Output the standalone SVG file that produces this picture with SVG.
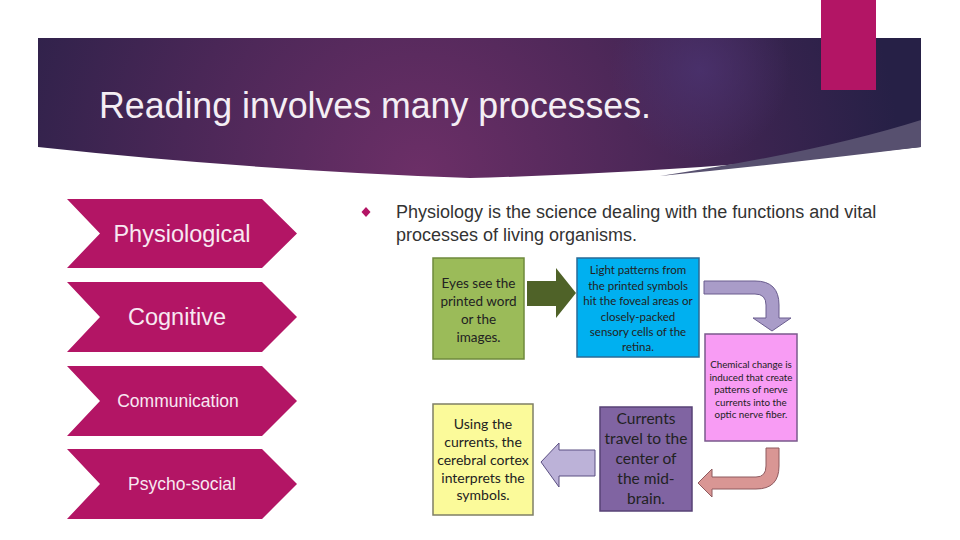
<svg xmlns="http://www.w3.org/2000/svg" width="960" height="540" viewBox="0 0 960 540">
<defs>
<radialGradient id="hdr" cx="420" cy="175" r="480" gradientUnits="userSpaceOnUse">
<stop offset="0" stop-color="#6c2f67"/>
<stop offset="0.5" stop-color="#4a2757"/>
<stop offset="1" stop-color="#262046"/>
</radialGradient>
<radialGradient id="glow" cx="700" cy="70" r="90" gradientUnits="userSpaceOnUse">
<stop offset="0" stop-color="#4b3370" stop-opacity="0.8"/>
<stop offset="1" stop-color="#4b3370" stop-opacity="0"/>
</radialGradient>
<style>
.chev{fill:#b31565;}
.ct{font-family:"Liberation Sans",Arial,sans-serif;fill:#f8e8f2;text-anchor:middle;}
.ft{font-family:Lato,"Open Sans",sans-serif;fill:#222;text-anchor:middle;}
.body{font-family:"Liberation Sans",Arial,sans-serif;font-size:18px;fill:#333;}
</style>
</defs>
<g id="header">
<path d="M38 38 H921 V147 Q700 172 470 178 Q250 170 38 147 Z" fill="url(#hdr)"/>
<path d="M38 38 H921 V147 Q700 172 470 178 Q250 170 38 147 Z" fill="url(#glow)"/>
<path d="M921 120 Q820 152 660 176 Q800 162 921 147 Z" fill="#57506f"/>
<rect x="821" y="0" width="55" height="90" fill="#b31565"/>
<text x="99" y="118" font-family="'Liberation Sans',Arial,sans-serif" font-size="36" fill="#f4eef4" textLength="552" lengthAdjust="spacingAndGlyphs">Reading involves many processes.</text>
</g>
<g id="chevron-physiological">
<polygon class="chev" points="67,199 262,199 297,233.5 262,268 67,268 100,233.5"/>
<text class="ct" x="182" y="242" font-size="23.5">Physiological</text>
</g>
<g id="chevron-cognitive">
<polygon class="chev" points="67,282 262,282 297,317 262,352 67,352 100,317"/>
<text class="ct" x="177" y="325" font-size="23.5">Cognitive</text>
</g>
<g id="chevron-communication">
<polygon class="chev" points="67,366 262,366 297,401 262,436 67,436 100,401"/>
<text class="ct" x="178" y="407" font-size="17.5">Communication</text>
</g>
<g id="chevron-psychosocial">
<polygon class="chev" points="67,449 262,449 297,484 262,519 67,519 100,484"/>
<text class="ct" x="182" y="490" font-size="17.5">Psycho-social</text>
</g>
<g id="bullet-text">
<polygon points="366,207 370.5,212 366,217 361.5,212" fill="#b31565"/>
<text class="body" x="396" y="218">Physiology is the science dealing with the functions and vital</text>
<text class="body" x="396" y="241">processes of living organisms.</text>
</g>
<g id="connectors">
<polygon points="527,281 556,281 556,268 576,293 556,318 556,306 527,306" fill="#4f6228"/>
<path d="M704 281 H755 Q779 281 779 305 V318 H791 L772 331 L753 318 H766 V305 Q766 294 755 294 H704 Z" fill="#a99cc8" stroke="#6a5d8e" stroke-width="1"/>
<path d="M766 448 H779 V466 Q779 489 756 489 H712 V497 L698 483 L712 469 V477 H756 Q766 477 766 466 Z" fill="#d99694" stroke="#8e5a5f" stroke-width="1"/>
<polygon points="595,450 559,450 559,443 541,462 559,487 559,476 595,476" fill="#bcb2d8" stroke="#5b4f82" stroke-width="1"/>
</g>
<g id="box-eyes">
<rect x="433" y="258" width="91" height="101" fill="#9bbb59" stroke="#6f8a3c" stroke-width="1.5"/>
<text class="ft" font-size="13.5"><tspan x="478.5" y="288">Eyes see the</tspan><tspan x="478.5" y="306">printed word</tspan><tspan x="478.5" y="324">or the</tspan><tspan x="478.5" y="342">images.</tspan></text>
</g>
<g id="box-light">
<rect x="577" y="258" width="122" height="99" fill="#00b0f0" stroke="#2a6b96" stroke-width="1.5"/>
<text class="ft" font-size="11.5"><tspan x="638" y="274">Light patterns from</tspan><tspan x="638" y="289.5">the printed symbols</tspan><tspan x="638" y="305">hit the foveal areas or</tspan><tspan x="638" y="320.5">closely-packed</tspan><tspan x="638" y="336">sensory cells of the</tspan><tspan x="638" y="351">retina.</tspan></text>
</g>
<g id="box-chemical">
<rect x="705" y="334" width="92" height="107" fill="#f89cf4" stroke="#7a5a8c" stroke-width="1.5"/>
<text class="ft" font-size="9.8"><tspan x="751" y="368">Chemical change is</tspan><tspan x="751" y="380.5">induced that create</tspan><tspan x="751" y="393">patterns of nerve</tspan><tspan x="751" y="405.5">currents into the</tspan><tspan x="751" y="418">optic nerve fiber.</tspan></text>
</g>
<g id="box-currents">
<rect x="600" y="407" width="92" height="104" fill="#8064a2" stroke="#574275" stroke-width="1.5"/>
<text class="ft" font-size="15.5"><tspan x="646" y="424">Currents</tspan><tspan x="646" y="444">travel to the</tspan><tspan x="646" y="464">center of</tspan><tspan x="646" y="484">the mid-</tspan><tspan x="646" y="504">brain.</tspan></text>
</g>
<g id="box-cortex">
<rect x="433" y="404" width="100" height="111" fill="#fbfa9a" stroke="#7f7f66" stroke-width="1.5"/>
<text class="ft" font-size="14"><tspan x="483" y="429">Using the</tspan><tspan x="483" y="447">currents, the</tspan><tspan x="483" y="465">cerebral cortex</tspan><tspan x="483" y="483">interprets the</tspan><tspan x="483" y="500">symbols.</tspan></text>
</g>
</svg>
